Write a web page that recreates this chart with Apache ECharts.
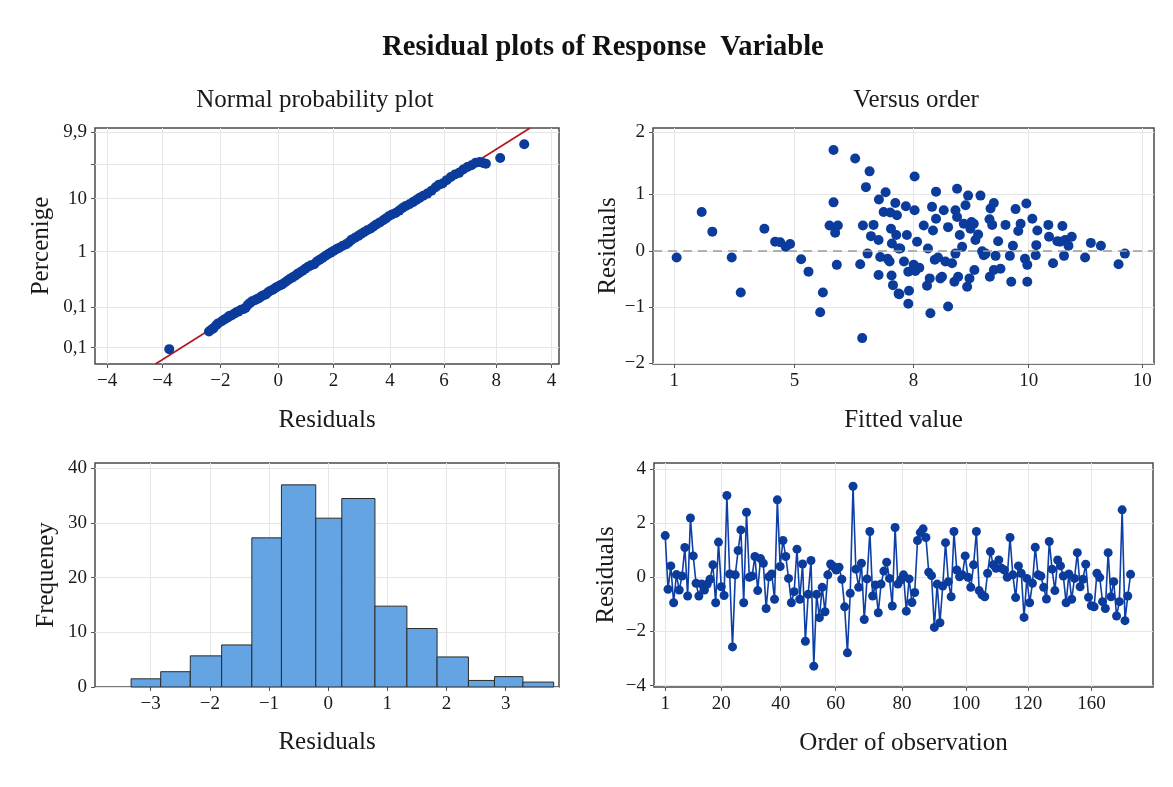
<!DOCTYPE html>
<html>
<head>
<meta charset="utf-8">
<title>Residual plots of Response Variable</title>
<script src="https://cdn.jsdelivr.net/npm/echarts@6/dist/echarts.min.js"></script>
<style>
  html, body { margin: 0; padding: 0; background: #fff; }
  #chart { width: 1173px; height: 787px; }
</style>
</head>
<body>
<div id="chart"></div>
<script>
// ---- normal probability plot ----
const npXTicks = [-6.2, -4.2, -2.1, 0, 2, 4.05, 6, 7.9, 9.9];
const npXLabels = ['\u22124', '\u22124', '\u22122', '0', '2', '4', '6', '8', '4'];
const npYTicks = [6.9, 24.2, 47.6, 70.1, 84.5, 98.2];
const npYLabels = ['0,1', '0,1', '1', '10', '', '9,9'];
const npFitLine = [[-4.45, 0], [9.12, 100]];
const npPoints = [
  [-3.95, 6.3],
  [-2.51, 13.8], [-2.42, 14.6], [-2.35, 15.1], [-2.25, 16.4], [-2.18, 17.2], [-2.05, 18.1],
  [-1.95, 18.9], [-1.85, 19.6], [-1.78, 20.3], [-1.7, 20.6], [-1.6, 21.3], [-1.52, 21.9],
  [-1.45, 22.2], [-1.35, 23.0], [-1.25, 23.3], [-1.18, 23.9], [-1.1, 25.1], [-1.02, 25.9],
  [-0.95, 26.6], [-0.85, 27.0], [-0.78, 27.4], [-0.7, 27.9], [-0.62, 28.6], [-0.55, 29.0],
  [-0.45, 29.5], [-0.38, 30.3], [-0.3, 30.9], [-0.2, 31.5], [-0.12, 32.1], [-0.05, 32.6],
  [0.05, 33.3], [0.12, 33.6], [0.2, 34.2], [0.3, 35.1], [0.4, 35.9], [0.5, 36.6],
  [0.6, 37.3], [0.7, 38.2], [0.78, 38.8], [0.88, 39.5], [0.98, 40.4], [1.08, 41.2],
  [1.18, 41.8], [1.3, 42.3], [1.4, 43.4], [1.5, 44.2], [1.6, 44.9], [1.7, 45.8],
  [1.8, 46.5], [1.9, 47.2], [2.0, 47.9], [2.1, 48.6], [2.2, 49.2], [2.32, 50.0],
  [2.45, 50.7], [2.55, 51.5], [2.65, 52.6], [2.78, 53.5], [2.9, 54.3], [3.0, 55.1],
  [3.1, 55.8], [3.22, 56.7], [3.35, 57.4], [3.45, 58.3], [3.55, 59.1], [3.68, 60.0],
  [3.8, 60.9], [3.9, 61.7], [4.0, 62.6], [4.12, 63.4], [4.25, 64.0], [4.38, 65.0],
  [4.5, 66.1], [4.62, 67.0], [4.75, 67.7], [4.88, 68.6], [5.0, 69.5], [5.12, 70.4],
  [5.25, 71.3], [5.4, 72.2], [5.55, 73.4], [5.7, 74.9], [5.82, 76.0], [5.95, 76.5],
  [6.1, 77.9], [6.25, 79.2], [6.4, 80.3], [6.55, 81.0], [6.7, 82.4], [6.85, 83.5],
  [7.0, 84.2], [7.15, 85.3], [7.3, 85.6], [7.42, 85.2], [7.52, 84.9],
  [8.04, 87.3], [8.91, 93.1]
];

// ---- versus fits ----
const fvXTicks = [0, 1.027, 2.045, 3.029, 4.0];
const fvXLabels = ['1', '5', '8', '10', '10'];
const fvYTicks = [-2, -1, 0, 1, 2.1];
const fvYLabels = ['\u22122', '\u22121', '0', '1', '2'];
const fvPoints = [
  [0.020, -0.12], [0.234, 0.69], [0.325, 0.34], [0.491, -0.12], [0.568, -0.74], [0.770, 0.39],
  [0.862, 0.16], [0.905, 0.15], [0.953, 0.07], [0.990, 0.12], [1.084, -0.15], [1.147, -0.37],
  [1.247, -1.09], [1.270, -0.74], [1.327, 0.45], [1.361, 1.79], [1.361, 0.86], [1.375, 0.32],
  [1.398, 0.45], [1.389, -0.25], [1.546, 1.64], [1.606, -1.55], [1.589, -0.24], [1.612, 0.45],
  [1.638, 1.13], [1.652, -0.05], [1.669, 1.41], [1.681, 0.26], [1.703, 0.46], [1.746, 0.19],
  [1.746, -0.43], [1.749, 0.91], [1.760, -0.11], [1.789, 0.69], [1.806, 1.04], [1.823, -0.14],
  [1.840, -0.19], [1.846, 0.68], [1.852, 0.39], [1.857, -0.44], [1.869, -0.61], [1.889, 0.85],
  [1.897, 0.28], [1.860, 0.13], [1.917, -0.76], [1.917, 0.04],
  [2.054, 1.32], [1.903, 0.63], [1.931, 0.04], [1.923, -0.77], [1.988, 0.28], [1.979, 0.79],
  [2.054, 0.72], [2.075, 0.16], [1.963, -0.19], [2.0, -0.37], [2.006, -0.71], [2.0, -0.94],
  [2.046, -0.25], [2.060, -0.36], [2.094, -0.30], [2.132, 0.45], [2.168, 0.04], [2.160, -0.62],
  [2.183, -0.49], [2.189, -1.11], [2.203, 0.78], [2.211, 0.36], [2.226, -0.16], [2.237, 1.05],
  [2.237, 0.57], [2.254, -0.12], [2.274, -0.49], [2.288, -0.46], [2.303, 0.72], [2.317, -0.19],
  [2.340, -0.99], [2.340, 0.42], [2.374, -0.22], [2.394, -0.55], [2.403, 0.72], [2.403, -0.05],
  [2.417, 1.10], [2.417, 0.60], [2.426, -0.46], [2.440, 0.28], [2.460, 0.07], [2.474, 0.48],
  [2.489, 0.81], [2.503, -0.64], [2.511, 0.98], [2.523, -0.49], [2.531, 0.39], [2.540, 0.51],
  [2.560, 0.48], [2.565, -0.34], [2.574, 0.19], [2.597, 0.29], [2.617, 0.98], [2.631, -0.01],
  [2.645, -0.08], [2.660, -0.05], [2.697, -0.46], [2.694, 0.56], [2.703, 0.75], [2.717, 0.46],
  [2.731, 0.85], [2.731, -0.34], [2.746, -0.09], [2.768, 0.17], [2.788, -0.32], [2.831, 0.46],
  [2.868, -0.09], [2.880, -0.55], [2.894, 0.09], [2.917, 0.74], [2.940, 0.35], [2.960, 0.48],
  [2.997, -0.14], [3.009, 0.84], [3.017, -0.25], [3.017, -0.55], [3.060, 0.57], [3.089, -0.08],
  [3.094, 0.10], [3.103, 0.36], [3.197, 0.46], [3.203, 0.25], [3.237, -0.22], [3.274, 0.17],
  [3.297, 0.16], [3.317, 0.44], [3.331, -0.09], [3.340, 0.19], [3.369, 0.09], [3.397, 0.25],
  [3.511, -0.12], [3.560, 0.14], [3.646, 0.09], [3.797, -0.24], [3.851, -0.05]
];

// ---- histogram ----
const histEdges = [-3.33, -2.83, -2.33, -1.8, -1.29, -0.79, -0.21, 0.23, 0.79, 1.33, 1.84, 2.37, 2.81, 3.29, 3.81];
const histCounts = [1.5, 2.8, 5.7, 7.7, 27.3, 37.0, 30.9, 34.5, 14.8, 10.7, 5.5, 1.2, 1.9, 0.9];
const histXTicks = [-3, -2, -1, 0, 1, 2, 3];
const histYTicks = [0, 10, 20, 30, 40];

// ---- versus order ----
const obsTicks = [1, 21, 42.2, 61.8, 85.5, 108.3, 130.4, 153.1];
const obsLabels = ['1', '20', '40', '60', '80', '100', '120', '160'];
const obsYTicks = [-4, -2, 0, 2, 4];
const obsResiduals = [
  1.54, -0.44, 0.42, -0.94, 0.1, -0.47, 0.05, 1.1, -0.69, 2.19, 0.79, -0.22, -0.69, -0.25, -0.47,
  -0.25, -0.07, 0.46, -0.94, 1.3, -0.35, -0.67, 3.02, 0.12, -2.57, 0.09, 0.99, 1.75, -0.94, 2.4,
  0, 0.05, 0.77, -0.49, 0.69, 0.52, -1.15, 0.02, 0.12, -0.81, 2.86, 0.4, 1.36, 0.77, -0.04,
  -0.94, -0.53, 1.04, -0.81, 0.49, -2.36, -0.63, 0.62, -3.28, -0.63, -1.49, -0.37,
  -1.27, 0.09, 0.49, 0.4, 0.27, 0.37, -0.07, -1.09, -2.79, -0.59, 3.36, 0.3, -0.37, 0.52, -1.56,
  -0.06, 1.69, -0.69, -0.28, -1.31, -0.25, 0.23, 0.56, -0.04, -1.06, 1.84, -0.25, -0.1, 0.09,
  -1.25, -0.06, -0.93, -0.56, 1.36, 1.65, 1.79, 1.47, 0.19, 0.06, -1.85, -0.25, -1.68, -0.32,
  1.28, -0.16, -0.72, 1.69, 0.27, 0.02, 0.09, 0.79, 0, -0.37, 0.46, 1.69, -0.49, -0.65, -0.72,
  0.15, 0.95, 0.46, 0.33,
  0.64, 0.33, 0.27, 0, 1.47, 0.09, -0.75, 0.42, 0.15, -1.48, -0.04, -0.94, -0.22, 1.11, 0.09,
  0.05, -0.37, -0.8, 1.32, 0.3, -0.49, 0.64, 0.42, 0.05, -0.94, 0.12, -0.81, -0.04, 0.91, -0.35,
  -0.07, 0.48, -0.74, -1.05, -1.09, 0.15, -0.01, -0.9, -1.15, 0.91, -0.72, -0.16, -1.43, -0.9,
  2.49, -1.6, -0.69, 0.11
];

const FONT = '"Liberation Serif", "Times New Roman", "DejaVu Serif", serif';
const INK = '#1a1a1a';
const DOT = '#0b3c9c';

function labelFor(ticks, labels) {
  return function (v) {
    for (let i = 0; i < ticks.length; i++) {
      if (Math.abs(ticks[i] - v) < 1e-6) return labels[i];
    }
    return '';
  };
}

function axis(gridIndex, min, max, ticks, labelTicks, formatter, name, nameGap) {
  return {
    type: 'value',
    gridIndex: gridIndex,
    min: min,
    max: max,
    name: name,
    nameLocation: 'middle',
    nameGap: nameGap,
    nameTextStyle: { fontFamily: FONT, fontSize: 25, color: INK },
    axisLine: { show: false, onZero: false },
    axisTick: { show: true, length: 4, customValues: ticks, lineStyle: { color: '#555' } },
    axisLabel: {
      customValues: labelTicks,
      formatter: formatter,
      fontFamily: FONT,
      fontSize: 19,
      color: INK,
      margin: 8
    },
    splitLine: { show: true, lineStyle: { color: '#e6e6e6', width: 1 } }
  };
}

const grids = [
  { left: 95, top: 128, width: 464, height: 236 },
  { left: 653, top: 128, width: 501, height: 236 },
  { left: 95, top: 463, width: 464, height: 224 },
  { left: 654, top: 463, width: 499, height: 224 }
].map(g => Object.assign(g, { show: true, borderColor: '#4a4a4a', borderWidth: 1.5, backgroundColor: '#fff' }));

const npYLabelTicks = npYTicks.filter((t, i) => npYLabels[i] !== '');
const histData = histCounts.map((c, i) => [histEdges[i], histEdges[i + 1], c]);
const obsData = obsResiduals.map((r, i) => [i + 1, r]);

const chart = echarts.init(document.getElementById('chart'));
chart.setOption({
  backgroundColor: '#fff',
  animation: false,
  grid: grids,
  graphic: [
    { type: 'text', x: 603, y: 48, style: { text: 'Residual plots of Response  Variable', fontFamily: FONT, fontSize: 28.5, fontWeight: 'bold', fill: '#111', align: 'center', verticalAlign: 'middle' } },
    { type: 'text', x: 315, y: 100, style: { text: 'Normal probability plot', fontFamily: FONT, fontSize: 25, fill: INK, align: 'center', verticalAlign: 'middle' } },
    { type: 'text', x: 916, y: 100, style: { text: 'Versus order', fontFamily: FONT, fontSize: 25, fill: INK, align: 'center', verticalAlign: 'middle' } }
  ],
  xAxis: [
    axis(0, -6.64, 10.17, npXTicks, npXTicks, labelFor(npXTicks, npXLabels), 'Residuals', 44),
    axis(1, -0.182, 4.10, fvXTicks, fvXTicks, labelFor(fvXTicks, fvXLabels), 'Fitted value', 44),
    axis(2, -3.94, 3.9, histXTicks, histXTicks, v => String(v).replace('-', '\u2212'), 'Residuals', 43),
    axis(3, -3, 175, obsTicks, obsTicks, labelFor(obsTicks, obsLabels), 'Order of observation', 44)
  ],
  yAxis: [
    axis(0, 0, 100, npYTicks, npYLabelTicks, labelFor(npYTicks, npYLabels), 'Percenige', 41),
    axis(1, -2.01, 2.18, fvYTicks, fvYTicks, labelFor(fvYTicks, fvYLabels), 'Residuals', 32),
    axis(2, 0, 41, histYTicks, histYTicks, v => String(v), 'Frequeney', 36),
    axis(3, -4.05, 4.22, obsYTicks, obsYTicks, v => String(v).replace('-', '\u2212'), 'Residuals', 35)
  ],
  series: [
    {
      type: 'line', xAxisIndex: 0, yAxisIndex: 0, data: npFitLine,
      symbol: 'none', lineStyle: { color: '#b2161b', width: 1.6 }, z: 2
    },
    {
      type: 'scatter', xAxisIndex: 0, yAxisIndex: 0, data: npPoints,
      symbolSize: 10, itemStyle: { color: DOT, opacity: 1 }, z: 3
    },
    {
      type: 'scatter', xAxisIndex: 1, yAxisIndex: 1, data: fvPoints,
      symbolSize: 10, itemStyle: { color: DOT, opacity: 1 }, z: 3,
      markLine: {
        silent: true, symbol: 'none', label: { show: false },
        lineStyle: { color: '#9a9a9a', type: [9, 6], width: 1.5 },
        data: [{ yAxis: 0 }]
      }
    },
    {
      type: 'custom', xAxisIndex: 2, yAxisIndex: 2, data: histData,
      encode: { x: [0, 1], y: 2 },
      renderItem: function (params, api) {
        const p0 = api.coord([api.value(0), api.value(2)]);
        const p1 = api.coord([api.value(1), 0]);
        return {
          type: 'rect',
          shape: { x: p0[0], y: p0[1], width: p1[0] - p0[0], height: p1[1] - p0[1] },
          style: { fill: '#64a4e3', stroke: '#2b2b2b', lineWidth: 1 }
        };
      }
    },
    {
      type: 'line', xAxisIndex: 3, yAxisIndex: 3, data: obsData,
      symbol: 'circle', symbolSize: 9,
      lineStyle: { color: '#0d3fa6', width: 1.6 },
      itemStyle: { color: DOT }
    }
  ]
});
</script>
</body>
</html>
